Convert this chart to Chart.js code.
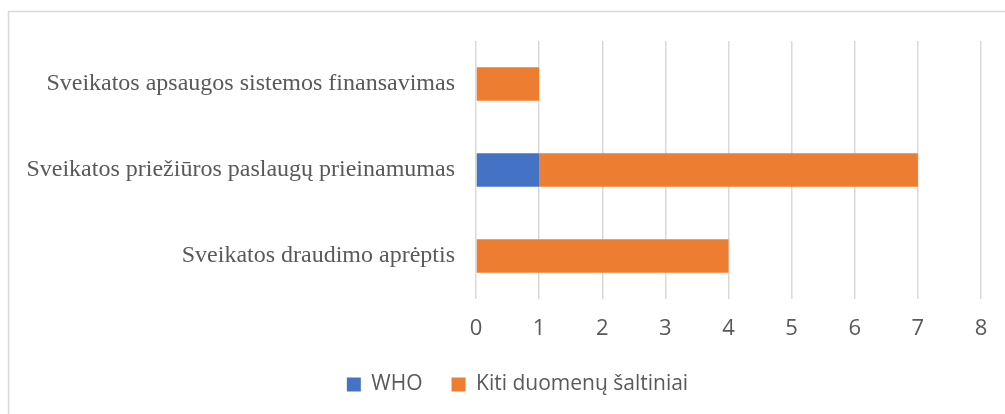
<!DOCTYPE html>
<html>
<head>
<meta charset="utf-8">
<script src="https://cdn.jsdelivr.net/npm/chart.js@4/dist/chart.umd.min.js"></script>
<style>
  html, body { margin: 0; padding: 0; background: #fff; }
</style>
</head>
<body>
<canvas id="myChart" width="1005" height="414"></canvas>
<script>
const categories = [
    "Sveikatos apsaugos sistemos finansavimas",
    "Sveikatos priežiūros paslaugų prieinamumas",
    "Sveikatos draudimo aprėptis"
];
const whoValues = [0, 1, 0];
const otherValues = [1, 6, 4];
const xMin = 0;
const xMax = 8;

// light frame around the chart, like the office chart area border
const frame = {
    id: 'frame',
    beforeDraw(chart) {
        const ctx = chart.ctx;
        ctx.save();
        ctx.strokeStyle = '#d9d9d9';
        ctx.lineWidth = 1.5;
        ctx.strokeRect(8.5, 11.5, 1010, 420);
        ctx.restore();
    }
};

// legend is centred under the plot, not under the whole canvas
const legendShift = {
    id: 'legendShift',
    afterLayout(chart) {
        if (chart.legend) chart.legend.left += 46;
    }
};

new Chart(document.getElementById("myChart"), {
    type: 'bar',
    data: {
        labels: categories,
        datasets: [{
            label: "WHO",
            backgroundColor: "#4472C4",
            data: whoValues,
        }, {
            label: "Kiti duomenų šaltiniai",
            backgroundColor: "#ED7D31",
            data: otherValues,
        }]
    },
    options: {
        indexAxis: 'y',
        responsive: false,
        animation: false,
        layout: {
            padding: { left: 8, right: 24, top: 41, bottom: 9 },
        },
        datasets: {
            bar: {
                categoryPercentage: 1,
                barPercentage: 0.39,
                borderWidth: 0,
            }
        },
        scales: {
            x: {
                stacked: true,
                min: xMin,
                max: xMax,
                ticks: {
                    stepSize: 1,
                    padding: 17,
                    color: '#595959',
                    font: { family: 'Open Sans', size: 22 },
                },
                grid: {
                    color: '#d9d9d9',
                    lineWidth: 1.5,
                    drawTicks: false,
                },
                border: { display: false },
                afterFit: (scale) => { scale.height = 46; },
            },
            y: {
                stacked: true,
                ticks: {
                    padding: 21,
                    color: '#595959',
                    font: { family: 'Liberation Serif', size: 24 },
                },
                grid: { display: false, drawTicks: false },
                border: { display: false },
                afterFit: (scale) => { scale.width = 468; },
            }
        },
        plugins: {
            legend: {
                display: true,
                position: 'bottom',
                labels: {
                    boxWidth: 14,
                    boxHeight: 14,
                    padding: 29,
                    color: '#595959',
                    font: { family: 'Open Sans', size: 21 },
                },
            },
            tooltip: { enabled: false },
        }
    },
    plugins: [frame, legendShift]
});
</script>
</body>
</html>
